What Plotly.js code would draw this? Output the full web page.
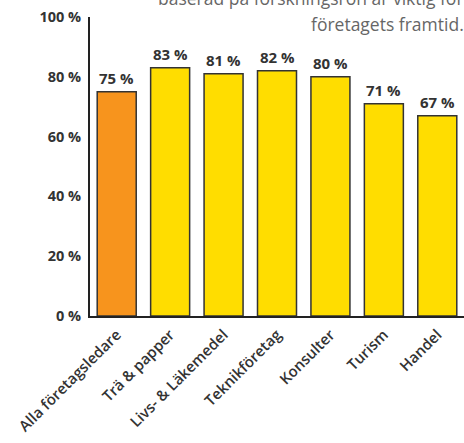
<!DOCTYPE html>
<html><head><meta charset="utf-8">
<script src="https://cdn.plot.ly/plotly-3.0.1.min.js"></script>
<style>html,body{margin:0;padding:0;background:#fff}#c{width:464px;height:443px}</style>
</head><body><div id="c"></div>
<script>
const categories = ["Alla företagsledare","Trä & papper","Livs- & Läkemedel","Teknikföretag","Konsulter","Turism","Handel"];
const values = [75, 83, 81, 82, 80, 71, 67];
const valueLabels = ["75 %","83 %","81 %","82 %","80 %","71 %","67 %"];
const barColors = ["#F7941D","#FFDD00","#FFDD00","#FFDD00","#FFDD00","#FFDD00","#FFDD00"];
const yTickVals = [0,20,40,60,80,100];
const yTickText = ["0 %","20 %","40 %","60 %","80 %","100 %"];
const titleLines = ["baserad på forskningsrön är viktig för", "företagets framtid."];

const trace = {
  type: "bar", x: categories, y: values,
  marker: {color: barColors, line: {color: "#333", width: 1.5}},
  width: 0.73, hoverinfo: "none"
};
const annotations = categories.map((c, i) => ({
  x: c, y: values[i], xref: "x", yref: "y", text: valueLabels[i],
  showarrow: false, yanchor: "bottom", yshift: 2,
  font: {family: "Open Sans", size: 15, color: "#333", weight: 700}
}));
const titleShifts = [5, -21];
titleLines.forEach((t, i) => annotations.push({
  xref: "paper", yref: "paper", x: 1.0, y: 1.0, xanchor: "right", yanchor: "bottom",
  yshift: titleShifts[i], xshift: 2, align: "right", showarrow: false, text: t,
  font: {family: "Open Sans", size: 17.5, color: "#666"}
}));
const layout = {
  width: 464, height: 443,
  margin: {l: 90, r: 0, t: 17, b: 127},
  paper_bgcolor: "#fff", plot_bgcolor: "#fff",
  showlegend: false,
  xaxis: {
    type: "category", range: [-0.5, 6.5], showline: true, linecolor: "#222", linewidth: 2,
    ticks: "", tickangle: -45, showgrid: false, zeroline: false, ticklabelstandoff: 2,
    tickfont: {family: "Open Sans", size: 15, color: "#333", weight: 600}
  },
  yaxis: {
    range: [0, 100], showline: true, linecolor: "#222", linewidth: 2,
    tickvals: yTickVals, ticktext: yTickText, ticks: "", showgrid: false, zeroline: false,
    ticklabelstandoff: 4,
    tickfont: {family: "Open Sans", size: 14.5, color: "#333", weight: 700}
  },
  annotations: annotations
};
Plotly.newPlot("c", [trace], layout, {staticPlot: true, displayModeBar: false});
</script></body></html>
